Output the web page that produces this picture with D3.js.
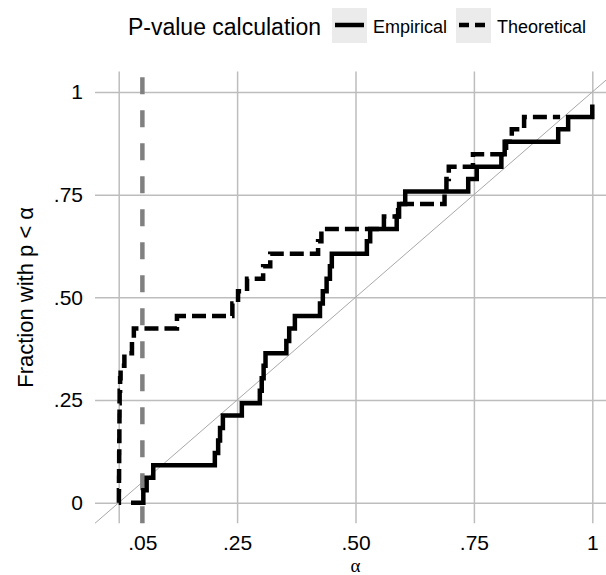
<!DOCTYPE html>
<html>
<head>
<meta charset="utf-8">
<script src="https://cdn.jsdelivr.net/npm/d3@7/dist/d3.min.js"></script>
<style>
body{margin:0;background:#fff}
text{font-family:"Liberation Sans",Arial,sans-serif;fill:#000}
</style>
</head>
<body>
<svg id="chart" width="606" height="575"></svg>
<script>

// sorted p-values and how many of the 33 lie below each one
const nObs = 33
const empP = [0.026,0.052,0.059,0.073,0.203,0.210,0.214,0.220,0.260,0.298,0.302,0.306,0.310,0.354,0.360,0.372,
	0.425,0.431,0.439,0.446,0.450,0.524,0.531,0.587,0.592,0.605,0.738,0.756,0.808,0.815,0.928,0.949,1.0]
const empCount = [0,1,2,3,4,5,6,7,8,9,10,11,12,13,14,15,16,17,18,19,20,21,22,23,24,25,26,27,28,29,30,31,32]
const theoP = [0,0.0004,0.0006,0.0008,0.001,0.0012,0.0014,0.0016,0.0018,0.002,0.003,0.004,0.012,0.028,0.032,0.123,
	0.240,0.252,0.271,0.305,0.320,0.421,0.428,0.560,0.590,0.688,0.692,0.697,0.748,0.818,0.830,0.856,0.932]
const theoCount = [0,1,2,3,4,5,6,7,8,9,10,11,12,13,14,15,16,17,18,19,20,21,22,23,24,25,26,27,28,29,30,31,31]

const xTicks = [0.05,0.25,0.5,0.75,1]
const xTickLabels = [".05",".25",".50",".75","1"]
const xGrid = [0,0.25,0.5,0.75,1]
const yTicks = [0,0.25,0.5,0.75,1]
const yTickLabels = ["0",".25",".50",".75","1"]
const alphaLine = 0.05
const legendTitle = "P-value calculation"
const seriesNames = ["Empirical","Theoretical"]

const lo = -0.05, hi = 1.05
let x = d3.scaleLinear().domain([0,1]).range([118.7,592.3])
let y = d3.scaleLinear().domain([0,1]).range([502.7,92])
let svg = d3.select("#chart")

let plotL = x(lo), plotR = x(hi), plotT = y(hi), plotB = y(lo)

// grid (drawn with axes, no labels)
svg.append("g")
	.attr("transform","translate(0,"+plotB+")")
	.call(d3.axisBottom(x).tickValues(xGrid).tickSize(-(plotB-plotT)).tickFormat(""))
	.call(g=>g.select(".domain").remove())
	.selectAll("line").attr("stroke","#bdbdbd").attr("stroke-width",1.5)
svg.append("g")
	.attr("transform","translate("+plotL+",0)")
	.call(d3.axisLeft(y).tickValues(yTicks).tickSize(-(plotR-plotL)).tickFormat(""))
	.call(g=>g.select(".domain").remove())
	.selectAll("line").attr("stroke","#bdbdbd").attr("stroke-width",1.5)

// 45 degree reference
svg.append("line")
	.attr("x1",x(lo)).attr("y1",y(lo))
	.attr("x2",x(hi)).attr("y2",y(hi))
	.attr("stroke","#a8a8a8").attr("stroke-width",1)

// alpha = .05 marker
svg.append("line")
	.attr("x1",x(alphaLine)).attr("y1",y(lo))
	.attr("x2",x(alphaLine)).attr("y2",y(hi))
	.attr("stroke","#808080").attr("stroke-width",4.5)
	.attr("stroke-dasharray","17,16")

function stepPath(ps,counts){
	let pts = ps.map((p,i)=>[p,counts[i]/nObs])
	return d3.line().x(d=>x(d[0])).y(d=>y(d[1])).curve(d3.curveStepAfter)(pts)
}
svg.append("path")
	.attr("d",stepPath(theoP,theoCount))
	.attr("fill","none").attr("stroke","#000").attr("stroke-width",4.5)
	.attr("stroke-dasharray","14,6")
svg.append("path")
	.attr("d",stepPath(empP,empCount))
	.attr("fill","none").attr("stroke","#000").attr("stroke-width",4.5)

// tick labels
svg.append("g")
	.attr("transform","translate(0,"+plotB+")")
	.call(d3.axisBottom(x).tickValues(xTicks).tickSize(0).tickPadding(12).tickFormat((d,i)=>xTickLabels[i]))
	.call(g=>g.select(".domain").remove())
	.selectAll("text").attr("font-size",21).attr("font-family","Liberation Sans, Arial, sans-serif")
svg.append("g")
	.attr("transform","translate("+plotL+",0)")
	.call(d3.axisLeft(y).tickValues(yTicks).tickSize(0).tickPadding(12).tickFormat((d,i)=>yTickLabels[i]))
	.call(g=>g.select(".domain").remove())
	.selectAll("text").attr("font-size",21).attr("font-family","Liberation Sans, Arial, sans-serif")

// axis titles
svg.append("text")
	.attr("x",x(0.5)).attr("y",572)
	.attr("text-anchor","middle")
	.style("font-family","Liberation Serif, serif")
	.style("font-size","19px")
	.text("α")
svg.append("text")
	.attr("transform","translate(33,"+y(0.5)+") rotate(-90)")
	.attr("text-anchor","middle")
	.style("font-size","22px")
	.text("Fraction with p < α")

// legend
svg.append("text")
	.attr("x",321).attr("y",35)
	.attr("text-anchor","end")
	.style("font-size","23px")
	.text(legendTitle)
let keyX = [332,456]
let keyDash = [null,"10,6"]
seriesNames.forEach((name,i)=>{
	svg.append("rect")
		.attr("x",keyX[i]).attr("y",8)
		.attr("width",35).attr("height",35)
		.attr("fill","#ebebeb")
	svg.append("line")
		.attr("x1",keyX[i]+3).attr("x2",keyX[i]+32)
		.attr("y1",25).attr("y2",25)
		.attr("stroke","#000").attr("stroke-width",4.5)
		.attr("stroke-dasharray",keyDash[i])
	svg.append("text")
		.attr("x",keyX[i]+41).attr("y",33)
		.style("font-size","18px")
		.text(name)
})

</script>
</body>
</html>
